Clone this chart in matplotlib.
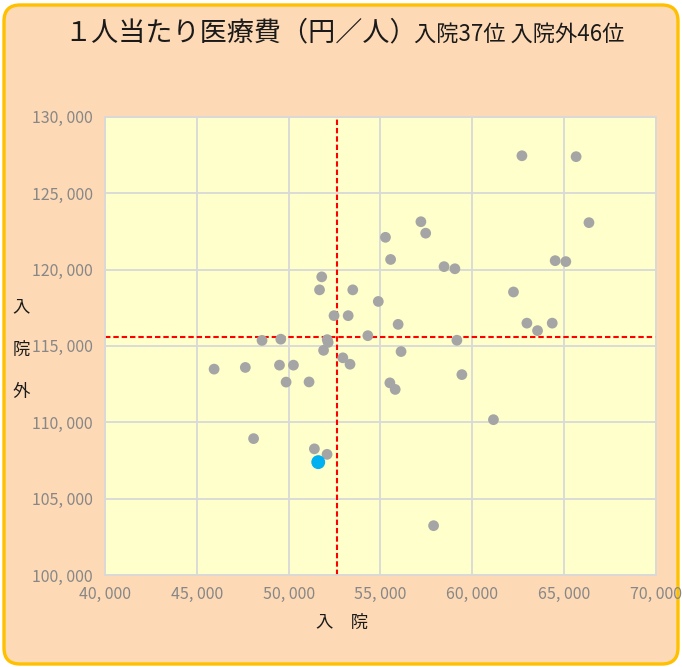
import matplotlib.pyplot as plt
from matplotlib.patches import FancyBboxPatch
from matplotlib.ticker import FuncFormatter, MultipleLocator
from matplotlib.transforms import IdentityTransform

plt.rcParams["font.family"] = ["Noto Sans CJK JP", "DejaVu Sans"]

# 1人当たり医療費（円／人）: 入院 (x) vs 入院外 (y), 47 prefectures
inpatient = [
    45940, 47640, 48550, 49570, 49500, 50260, 49860, 48090, 51800, 51680,
    53490, 54880, 52470, 53240, 52100, 52150, 54310, 51900, 52950, 53340,
    51110, 51400, 52090, 57200, 57460, 55270, 55550, 58460, 59050, 55960,
    56120, 59160, 59430, 55510, 55800, 57890, 61150, 62700, 65650, 66350,
    64510, 65090, 62240, 62970, 63550, 64350,
]
outpatient = [
    113480, 113590, 115360, 115440, 113740, 113740, 112630, 108930, 119520, 118670,
    118670, 117910, 116980, 116980, 115410, 115230, 115670, 114710, 114220, 113800,
    112640, 108260, 107900, 123130, 122380, 122110, 120660, 120190, 120050, 116410,
    114630, 115370, 113120, 112580, 112150, 103230, 110170, 127450, 127390, 123070,
    120580, 120520, 118530, 116490, 116000, 116490,
]
# highlighted prefecture
own_inpatient = [51610]
own_outpatient = [107390]

# reference lines
ref_inpatient = 52650
ref_outpatient = 115590

W, H = 682, 667
fig = plt.figure(figsize=(W / 100, H / 100), dpi=100)
fig.patch.set_facecolor("white")

# rounded peach frame with gold border (behind the axes)
frame = FancyBboxPatch((4, 3), 674, 659, boxstyle="round,pad=0,rounding_size=16",
                       transform=IdentityTransform(), facecolor="#FDD9B5",
                       edgecolor="#FFC000", linewidth=2.4, zorder=-1)
fig.patches.append(frame)

left, right, top, bottom = 105, 656, 116.8, 575
ax = fig.add_axes([left / W, 1 - bottom / H, (right - left) / W, (bottom - top) / H])
ax.set_facecolor("#FFFFCC")

ax.scatter(inpatient, outpatient, s=60, color="#A5A5A5", edgecolors="none", zorder=3)
ax.scatter(own_inpatient, own_outpatient, s=100, color="#00B0F0", edgecolors="none", zorder=4)

ax.axvline(ref_inpatient, color="#FF0000", lw=1.5, ls=(0, (2.6, 1.4)), zorder=2)
ax.axhline(ref_outpatient, color="#FF0000", lw=1.5, ls=(0, (2.6, 1.4)), zorder=2)

ax.set_xlim(40000, 70000)
ax.set_ylim(100000, 130000)
ax.xaxis.set_major_locator(MultipleLocator(5000))
ax.yaxis.set_major_locator(MultipleLocator(5000))
fmt = FuncFormatter(lambda v, p: f"{v:,.0f}".replace(",", ", "))
ax.xaxis.set_major_formatter(fmt)
ax.yaxis.set_major_formatter(fmt)
ax.grid(True, color="#D9D9D9", lw=1.3, zorder=1)
ax.set_axisbelow(True)
for sp in ax.spines.values():
    sp.set_color("#D9D9D9")
    sp.set_linewidth(1.3)
ax.tick_params(length=0, labelsize=11.5, labelcolor="#878787")
ax.tick_params(axis="y", pad=9)
ax.tick_params(axis="x", pad=8)

fig.text(64 / W, 1 - 33 / H, "１人当たり医療費（円／人）", fontsize=19.5,
         ha="left", va="center", color="#1A1A1A")
fig.text(414 / W, 1 - 34 / H, "入院37位 入院外46位", fontsize=16,
         ha="left", va="center", color="#1A1A1A")

fig.text(21.5 / W, 1 - 350 / H, "入\n院\n外", fontsize=12.5, ha="center",
         va="center", linespacing=2.75, color="#1A1A1A")
fig.text(342 / W, 1 - 623 / H, "入　院", fontsize=12.5, ha="center",
         va="center", color="#1A1A1A")

fig.savefig("out.png", dpi=100)
